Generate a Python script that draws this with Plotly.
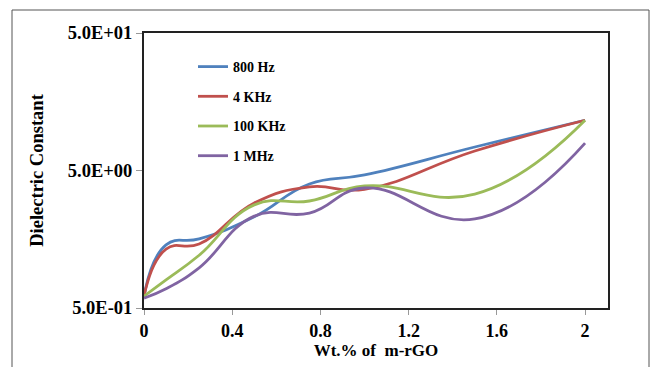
import plotly.graph_objects as go

wt = [0, 0.1, 0.25, 0.5, 0.75, 1.0, 1.5, 2.0]
hz800 = [0.61, 1.44, 1.59, 2.30, 3.99, 4.64, 7.41, 11.6]
khz4 = [0.61, 1.34, 1.46, 2.90, 3.80, 3.65, 6.93, 11.6]
khz100 = [0.61, 0.80, 1.21, 2.81, 3.00, 3.86, 3.37, 11.6]
mhz1 = [0.59, 0.69, 0.98, 2.33, 2.45, 3.73, 2.22, 7.9]

names = ["800 Hz", "4 KHz", "100 KHz", "1 MHz"]
colors = ["#4F81BD", "#C0504D", "#9BBB59", "#8064A2"]
series = [hz800, khz4, khz100, mhz1]

ytickvals = [0.5, 5, 50]
yticktext = ["5.0E-01", "5.0E+00", "5.0E+01"]
xtickvals = [0, 0.4, 0.8, 1.2, 1.6, 2]
xticktext = ["0", "0.4", "0.8", "1.2", "1.6", "2"]

FONT = "Liberation Serif, Times New Roman, serif"

fig = go.Figure()
for i, (n, c, s) in enumerate(zip(names, colors, series)):
    fig.add_trace(go.Scatter(
        x=wt, y=s, name=n, mode="lines",
        line=dict(color=c, width=2.8, shape="spline", smoothing=1.3),
        legendgroup=f"g{i}",
    ))

W, H = 653, 367
L, R, T, B = 144, 45, 33, 59
pw, ph = W - L - R, H - T - B

def px2paper_x(px):
    return (px - L) / pw

def py2paper_y(py):
    return (H - B - py) / ph

fig.add_shape(type="rect", xref="paper", yref="paper",
              x0=px2paper_x(12), x1=px2paper_x(649),
              y0=py2paper_y(375), y1=py2paper_y(10),
              line=dict(color="#555555", width=1), layer="below")

fig.update_layout(
    width=W, height=H,
    margin=dict(l=L, r=R, t=T, b=B),
    paper_bgcolor="white", plot_bgcolor="white",
    font=dict(family=FONT, color="black"),
    showlegend=True,
    legend=dict(
        x=px2paper_x(193), y=py2paper_y(51), xanchor="left", yanchor="top",
        font=dict(family=FONT, size=14, color="black", weight="bold"),
        bgcolor="rgba(0,0,0,0)", tracegroupgap=8.5,
        itemwidth=30,
    ),
    xaxis=dict(
        range=[0, 2.104], tickvals=xtickvals, ticktext=xticktext,
        showgrid=False, zeroline=False,
        showline=True, linecolor="#222222", linewidth=2, mirror=True,
        ticks="outside", ticklen=5, tickcolor="#999999",
        tickfont=dict(family=FONT, size=18, weight="bold"),
        title=dict(text="Wt.% of  m-rGO", font=dict(family=FONT, size=17, weight="bold"), standoff=0),
    ),
    yaxis=dict(
        type="log", range=[0.69897 - 1, 1.69897],
        tickvals=ytickvals, ticktext=yticktext,
        showgrid=False, zeroline=False,
        showline=True, linecolor="#222222", linewidth=2, mirror=True,
        ticks="outside", ticklen=6, tickcolor="#999999",
        tickfont=dict(family=FONT, size=18.5, weight="bold"),
        title=dict(text="Dielectric Constant", font=dict(family=FONT, size=18.5, weight="bold"), standoff=19),
    ),
)

fig.write_html("out.html")
